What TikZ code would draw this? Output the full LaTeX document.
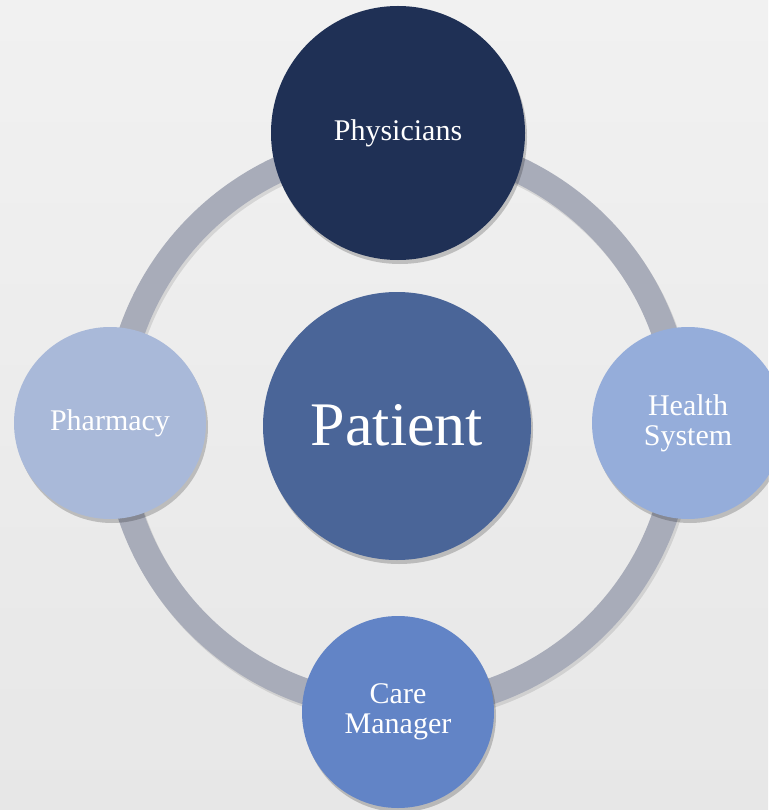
\documentclass[tikz,border=0pt]{standalone}
\usepackage{fontspec}
\setmainfont{Liberation Serif}
\usetikzlibrary{shadows}
\definecolor{bgtop}{HTML}{F1F1F1}
\definecolor{bgbot}{HTML}{E7E7E7}
\definecolor{ringgray}{HTML}{A8ACB9}
\definecolor{physc}{HTML}{1F3055}
\definecolor{patc}{HTML}{4A6598}
\definecolor{pharmc}{HTML}{A9B9D9}
\definecolor{healthc}{HTML}{95ADDA}
\definecolor{carec}{HTML}{6284C6}
\tikzset{
  bubble/.style={circle, inner sep=0pt, text=white, align=center,
    font=\fontsize{30}{30}\selectfont,
    drop shadow={shadow xshift=2pt, shadow yshift=-4pt, opacity=0.2, fill=black}},
  ringband/.style={line width=26pt, draw=ringgray},
  ringshadow/.style={line width=26pt, draw=black, opacity=0.10}
}
\begin{document}
\begin{tikzpicture}[x=1pt,y=-1pt]
  \useasboundingbox (0,0) rectangle (768,810);
  \shade[top color=bgtop, bottom color=bgbot] (0,0) rectangle (768,810);
  \coordinate (c) at (398,425);
  \draw[ringshadow] ([shift={(2,3)}]c) circle[radius=282pt];
  \draw[ringband] (c) circle[radius=282pt];
  \node[bubble, fill=physc, minimum size=254pt] (phys) at (398,133) {Physicians};
  \node[bubble, fill=patc, minimum size=268pt, font=\fontsize{62}{62}\selectfont] (pat) at (397,426) {\raisebox{3pt}{Patient}};
  \node[bubble, fill=pharmc, minimum size=192pt] (pharm) at (110,423) {Pharmacy};
  \node[bubble, fill=healthc, minimum size=192pt] (health) at (688,423) {Health\\System};
  \node[bubble, fill=carec, minimum size=192pt] (care) at (398,712) {Care\\Manager};
\end{tikzpicture}
\end{document}
